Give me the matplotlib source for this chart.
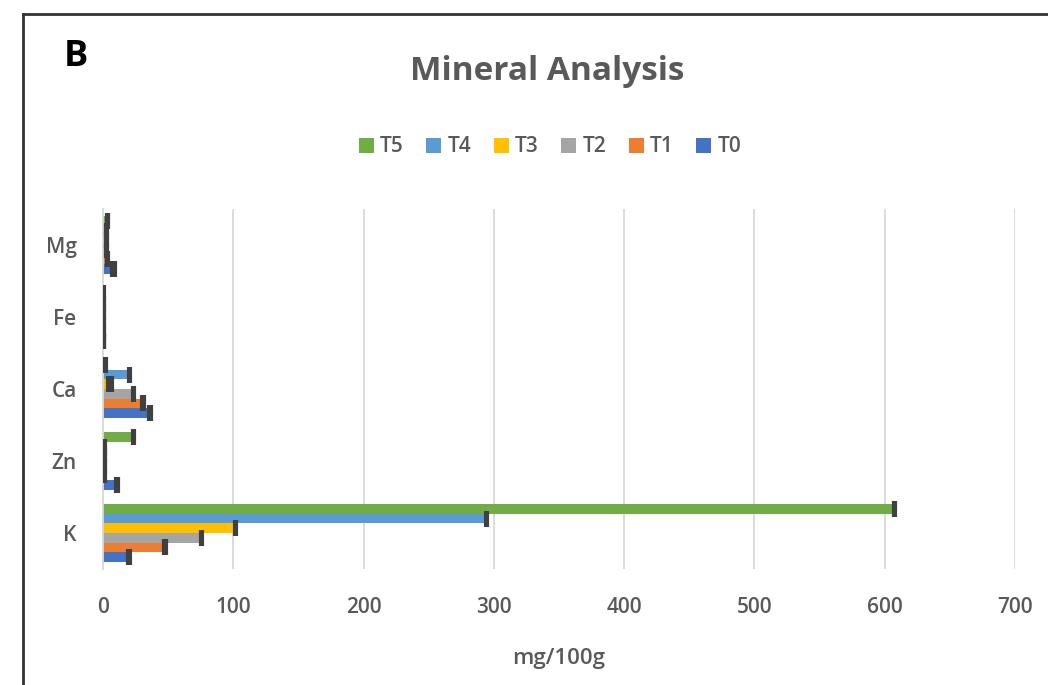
import matplotlib.pyplot as plt
import numpy as np

# minerals, bottom to top as drawn
minerals = ["K", "Zn", "Ca", "Fe", "Mg"]
treatments = ["T0", "T1", "T2", "T3", "T4", "T5"]

# mg/100g, one list per treatment (order follows minerals)
T0 = [19, 10, 35, 0.4, 7]
T1 = [47, 0.5, 30, 0.3, 3]
T2 = [75, 0.5, 23, 0.3, 2]
T3 = [101, 0.5, 4, 0.3, 2]
T4 = [294, 0.5, 20, 0.3, 2]
T5 = [607, 23, 0.5, 0.3, 3]

T0_err = [2, 1.5, 2, 0.3, 2]
T1_err = [1.5, 1, 1.5, 0.3, 1]
T2_err = [1, 1, 1, 0.3, 1]
T3_err = [1, 1, 3, 0.3, 1]
T4_err = [1, 1, 1, 0.3, 1]
T5_err = [1, 1, 1.5, 0.3, 1]

values = [T0, T1, T2, T3, T4, T5]
errors = [T0_err, T1_err, T2_err, T3_err, T4_err, T5_err]
colors = ["#4472C4", "#ED7D31", "#A5A5A5", "#FFC000", "#5B9BD5", "#70AD47"]

plt.rcParams['font.family'] = ['Open Sans', 'DejaVu Sans']
txt = "#595959"

fig = plt.figure(figsize=(10.48, 6.85), dpi=100)
ax = fig.add_axes([103 / 1048, 1 - 569 / 685, 912 / 1048, 360 / 685])

y = np.arange(len(minerals))
h = 0.133
for i, (vals, errs) in enumerate(zip(values, errors)):
    pos = y - 2.5 * h + i * h
    ax.barh(pos, vals, height=h, color=colors[i], label=treatments[i], zorder=2)
    ax.errorbar(vals, pos, xerr=[np.zeros(len(errs)), errs], fmt="none",
                ecolor="#404040", elinewidth=1.5, capsize=6, capthick=3, zorder=3)

ax.set_xlim(0, 700)
ax.set_ylim(-0.5, 4.5)
ax.set_xticks(range(0, 701, 100))
ax.set_yticks(y)
ax.set_yticklabels(minerals)
ax.tick_params(axis="both", length=0, labelsize=15, colors=txt)
ax.tick_params(axis="x", pad=20)
ax.tick_params(axis="y", pad=19)
for lab in ax.get_xticklabels() + ax.get_yticklabels():
    lab.set_fontweight("semibold")
ax.grid(axis="x", color="#D9D9D9", linewidth=1.3, zorder=0)
for s in ["top", "right", "bottom"]:
    ax.spines[s].set_visible(False)
ax.spines["left"].set_color("#D9D9D9")
ax.spines["left"].set_linewidth(1.3)
ax.set_xlabel("mg/100g", fontsize=16, color=txt, labelpad=22, fontweight="semibold")

handles, labels = ax.get_legend_handles_labels()
fig.legend(handles[::-1], labels[::-1], loc="center", bbox_to_anchor=(550 / 1048, 1 - 147 / 685),
           ncol=6, frameon=False, prop={"size": 15, "weight": "semibold"}, labelcolor=txt,
           handlelength=0.7, handleheight=0.7, handletextpad=0.3, columnspacing=1.1)

fig.text(547 / 1048, 1 - 72 / 685, "Mineral Analysis", ha="center", va="center",
         fontsize=24, fontweight="bold", color=txt)
fig.text(64 / 1048, 1 - 57 / 685, "B", ha="left", va="center", fontsize=26,
         fontweight="bold", color="black")

# frame around the panel (top and left edges only visible)
fig.add_artist(plt.Line2D([23 / 1048, 1], [1 - 14 / 685, 1 - 14 / 685], color="#333333", linewidth=2))
fig.add_artist(plt.Line2D([23 / 1048, 23 / 1048], [0, 1 - 14 / 685], color="#333333", linewidth=2))

fig.savefig("out.png", dpi=100)
